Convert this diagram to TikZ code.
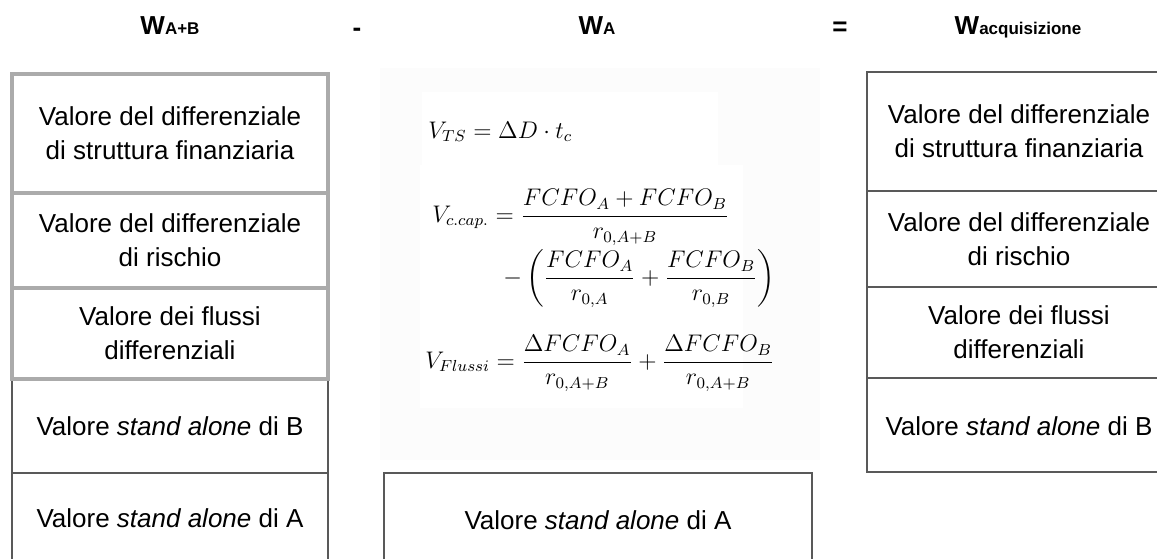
\documentclass[tikz,border=0pt]{standalone}
\usepackage[no-math]{fontspec}
\setmainfont{Liberation Sans}
\usepackage{amsmath}
\newcommand{\hsub}[1]{\raisebox{-0.4pt}{\fontsize{8.5}{10}\selectfont #1}}
\begin{document}
\begin{tikzpicture}[x=0.5pt,y=-0.5pt,
  hdr/.style={anchor=base, inner sep=0pt, font=\bfseries\fontsize{13}{15}\selectfont},
  txt/.style={align=center, inner sep=0pt, font=\fontsize{13}{17}\selectfont},
  eq/.style={anchor=base west, inner sep=0pt, font=\fontsize{12}{15}\selectfont},
  thin/.style={draw=black!65, line width=0.75pt},
  frame/.style={draw=black!33, line width=2pt}]
\useasboundingbox (0,0) rectangle (1157,559);

% column headings
\node[hdr] (hAB) at (170,34) {W\hsub{A+B}};
\node[hdr] (hMinus) at (357,36) {-};
\node[hdr] (hA) at (597,34) {W\hsub{A}};
\node[hdr] (hEq) at (840,35) {=};
\node[hdr] (hAcq) at (1018,34) {W\hsub{acquisizione}};

% left column: W(A+B)
\draw[thin] (12,379) -- (12,559);
\draw[thin] (328,379) -- (328,559);
\draw[thin] (12,473) -- (328,473);
\draw[frame] (12,74) rectangle (328,379);
\draw[frame] (12,193) -- (328,193);
\draw[frame] (12,288) -- (328,288);
\node[txt] (l1) at (170,133.5) {Valore del differenziale\\di struttura finanziaria};
\node[txt] (l2) at (170,240.5) {Valore del differenziale\\di rischio};
\node[txt] (l3) at (170,333.5) {Valore dei flussi\\differenziali};
\node[txt] (l4) at (170,426) {Valore \textit{stand alone} di B};
\node[txt] (l5) at (170,518) {Valore \textit{stand alone} di A};

% middle column: W(A), formulas on a faint panel
\fill[black!1] (380,68) rectangle (820,460);
\fill[white] (422,92) rectangle (718,168);
\fill[white] (420,165) rectangle (743,408);
\node[eq] (vts) at (428,138) {$V_{TS} = \Delta D\cdot t_c$};
\node[eq] (vcap1) at (432,222) {$V_{c.cap.} = \dfrac{FCFO_A + FCFO_B}{r_{0,A+B}}$};
\node[eq] (vcap2) at (503,284) {$-\left(\dfrac{FCFO_A}{r_{0,A}} + \dfrac{FCFO_B}{r_{0,B}}\right)$};
\node[eq] (vfl) at (425,368) {$V_{Flussi} = \dfrac{\Delta FCFO_A}{r_{0,A+B}} + \dfrac{\Delta FCFO_B}{r_{0,A+B}}$};
\draw[thin] (384,559) -- (384,473) -- (812,473) -- (812,559);
\node[txt] (mA) at (598,520) {Valore \textit{stand alone} di A};

% right column: W(acquisizione)
\draw[thin] (1157,72) -- (867,72) -- (867,472) -- (1157,472);
\draw[thin] (867,191) -- (1157,191);
\draw[thin] (867,287) -- (1157,287);
\draw[thin] (867,378) -- (1157,378);
\node[txt] (r1) at (1019,131.5) {Valore del differenziale\\di struttura finanziaria};
\node[txt] (r2) at (1019,239) {Valore del differenziale\\di rischio};
\node[txt] (r3) at (1019,332.5) {Valore dei flussi\\differenziali};
\node[txt] (r4) at (1019,426) {Valore \textit{stand alone} di B};
\end{tikzpicture}
\end{document}
